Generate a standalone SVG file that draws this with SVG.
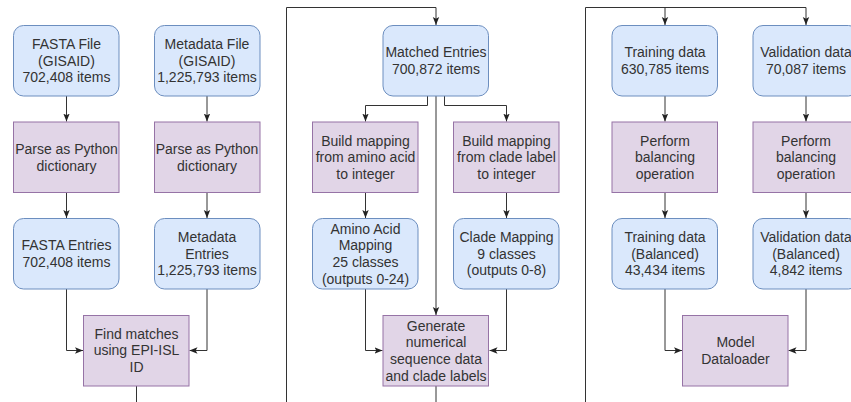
<svg xmlns="http://www.w3.org/2000/svg" width="851" height="402" viewBox="0 0 851 402">
  <style>
    .data { fill: #dae8fc; stroke: #6c8ebf; stroke-width: 1; }
    .proc { fill: #e1d5e7; stroke: #9673a6; stroke-width: 1; }
    .lbl { font-family: "Liberation Sans", Arial, Helvetica, sans-serif; font-size: 14px; fill: #333333; text-anchor: middle; }
    .edge { fill: none; stroke: #333333; stroke-width: 1; }
    .arr { marker-end: url(#arrow); }
  </style>
  <defs>
    <marker id="arrow" markerUnits="userSpaceOnUse" markerWidth="8" markerHeight="8" viewBox="0 0 8 8" refX="8" refY="4" orient="auto">
      <path d="M0,0.8 L8,4 L0,7.2 L1.8,4 Z" fill="#222222"/>
    </marker>
  </defs>
  <rect width="851" height="402" fill="#ffffff"/>

  <!-- connectors -->
  <g id="connectors">
    <path class="edge arr" d="M66.5,96 V121.5"/>
    <path class="edge arr" d="M207,96 V121.5"/>
    <path class="edge arr" d="M66.5,192.5 V218"/>
    <path class="edge arr" d="M207,192.5 V218"/>
    <path class="edge arr" d="M66.5,289 V350.5 H83"/>
    <path class="edge arr" d="M207,289 V350.5 H189.5"/>
    <path class="edge" d="M136.5,386 V402"/>

    <path class="edge arr" d="M286.5,402 V7.5 H436 V25"/>
    <path class="edge arr" d="M427.5,96 V105.5 H365.5 V121.5"/>
    <path class="edge arr" d="M444.5,96 V105.5 H506.5 V121.5"/>
    <path class="edge arr" d="M436,96 V315"/>
    <path class="edge arr" d="M365.5,192.5 V218"/>
    <path class="edge arr" d="M506.5,192.5 V218"/>
    <path class="edge arr" d="M365.5,289 V350.5 H382.5"/>
    <path class="edge arr" d="M506.5,289 V350.5 H489.5"/>
    <path class="edge" d="M436,386 V402"/>

    <path class="edge arr" d="M585.5,402 V7.5 H806 V25"/>
    <path class="edge arr" d="M665,7.5 V25"/>
    <path class="edge arr" d="M665,96 V121.5"/>
    <path class="edge arr" d="M806,96 V121.5"/>
    <path class="edge arr" d="M665,192.5 V218"/>
    <path class="edge arr" d="M806,192.5 V218"/>
    <path class="edge arr" d="M665,289 V350.5 H682"/>
    <path class="edge arr" d="M806,289 V350.5 H788.5"/>
  </g>

  <!-- stage 1: loading and matching -->
  <g id="fasta-file">
    <rect class="data" x="13.5" y="25.5" width="105.5" height="70.5" rx="10"/>
    <text class="lbl"><tspan x="66.5" y="49">FASTA File</tspan><tspan x="66.5" y="65.7">(GISAID)</tspan><tspan x="66.5" y="82.4">702,408 items</tspan></text>
  </g>
  <g id="metadata-file">
    <rect class="data" x="154.5" y="25.5" width="105.5" height="70.5" rx="10"/>
    <text class="lbl"><tspan x="207" y="49">Metadata File</tspan><tspan x="207" y="65.7">(GISAID)</tspan><tspan x="207" y="82.4">1,225,793 items</tspan></text>
  </g>
  <g id="parse-fasta">
    <rect class="proc" x="13.5" y="122" width="105.5" height="70.5"/>
    <text class="lbl"><tspan x="66.5" y="153.9">Parse as Python</tspan><tspan x="66.5" y="170.6">dictionary</tspan></text>
  </g>
  <g id="parse-metadata">
    <rect class="proc" x="154.5" y="122" width="105.5" height="70.5"/>
    <text class="lbl"><tspan x="207" y="153.9">Parse as Python</tspan><tspan x="207" y="170.6">dictionary</tspan></text>
  </g>
  <g id="fasta-entries">
    <rect class="data" x="13.5" y="218.5" width="105.5" height="70.5" rx="10"/>
    <text class="lbl"><tspan x="66.5" y="250.4">FASTA Entries</tspan><tspan x="66.5" y="267.1">702,408 items</tspan></text>
  </g>
  <g id="metadata-entries">
    <rect class="data" x="154.5" y="218.5" width="105.5" height="70.5" rx="10"/>
    <text class="lbl"><tspan x="207" y="242">Metadata</tspan><tspan x="207" y="258.7">Entries</tspan><tspan x="207" y="275.4">1,225,793 items</tspan></text>
  </g>
  <g id="find-matches">
    <rect class="proc" x="83.5" y="315.5" width="105.5" height="70.5"/>
    <text class="lbl"><tspan x="136.5" y="338.7">Find matches</tspan><tspan x="136.5" y="355.4">using EPI-ISL</tspan><tspan x="136.5" y="372.1">ID</tspan></text>
  </g>

  <!-- stage 2: mapping and encoding -->
  <g id="matched-entries">
    <rect class="data" x="383" y="25.5" width="105.5" height="70.5" rx="10"/>
    <text class="lbl"><tspan x="436" y="57.4">Matched Entries</tspan><tspan x="436" y="74.1">700,872 items</tspan></text>
  </g>
  <g id="build-amino">
    <rect class="proc" x="312.5" y="122" width="105.5" height="70.5"/>
    <text class="lbl"><tspan x="365.5" y="145.5">Build mapping</tspan><tspan x="365.5" y="162.2">from amino acid</tspan><tspan x="365.5" y="178.9">to integer</tspan></text>
  </g>
  <g id="build-clade">
    <rect class="proc" x="453.5" y="122" width="105.5" height="70.5"/>
    <text class="lbl"><tspan x="506.5" y="145.5">Build mapping</tspan><tspan x="506.5" y="162.2">from clade label</tspan><tspan x="506.5" y="178.9">to integer</tspan></text>
  </g>
  <g id="amino-mapping">
    <rect class="data" x="312.5" y="218.5" width="105.5" height="70.5" rx="10"/>
    <text class="lbl"><tspan x="365.5" y="233.7">Amino Acid</tspan><tspan x="365.5" y="250.4">Mapping</tspan><tspan x="365.5" y="267.1">25 classes</tspan><tspan x="365.5" y="283.8">(outputs 0-24)</tspan></text>
  </g>
  <g id="clade-mapping">
    <rect class="data" x="453.5" y="218.5" width="105.5" height="70.5" rx="10"/>
    <text class="lbl"><tspan x="506.5" y="242">Clade Mapping</tspan><tspan x="506.5" y="258.7">9 classes</tspan><tspan x="506.5" y="275.4">(outputs 0-8)</tspan></text>
  </g>
  <g id="generate">
    <rect class="proc" x="383" y="315.5" width="105.5" height="70.5"/>
    <text class="lbl"><tspan x="436" y="330.7">Generate</tspan><tspan x="436" y="347.4">numerical</tspan><tspan x="436" y="364.1">sequence data</tspan><tspan x="436" y="380.8">and clade labels</tspan></text>
  </g>

  <!-- stage 3: splitting and balancing -->
  <g id="training-data">
    <rect class="data" x="612" y="25.5" width="105.5" height="70.5" rx="10"/>
    <text class="lbl"><tspan x="665" y="57.4">Training data</tspan><tspan x="665" y="74.1">630,785 items</tspan></text>
  </g>
  <g id="validation-data">
    <rect class="data" x="753" y="25.5" width="105.5" height="70.5" rx="10"/>
    <text class="lbl"><tspan x="806" y="57.4">Validation data</tspan><tspan x="806" y="74.1">70,087 items</tspan></text>
  </g>
  <g id="balance-training">
    <rect class="proc" x="612" y="122" width="105.5" height="70.5"/>
    <text class="lbl"><tspan x="665" y="145.5">Perform</tspan><tspan x="665" y="162.2">balancing</tspan><tspan x="665" y="178.9">operation</tspan></text>
  </g>
  <g id="balance-validation">
    <rect class="proc" x="753" y="122" width="105.5" height="70.5"/>
    <text class="lbl"><tspan x="806" y="145.5">Perform</tspan><tspan x="806" y="162.2">balancing</tspan><tspan x="806" y="178.9">operation</tspan></text>
  </g>
  <g id="training-balanced">
    <rect class="data" x="612" y="218.5" width="105.5" height="70.5" rx="10"/>
    <text class="lbl"><tspan x="665" y="242">Training data</tspan><tspan x="665" y="258.7">(Balanced)</tspan><tspan x="665" y="275.4">43,434 items</tspan></text>
  </g>
  <g id="validation-balanced">
    <rect class="data" x="753" y="218.5" width="105.5" height="70.5" rx="10"/>
    <text class="lbl"><tspan x="806" y="242">Validation data</tspan><tspan x="806" y="258.7">(Balanced)</tspan><tspan x="806" y="275.4">4,842 items</tspan></text>
  </g>
  <g id="model-dataloader">
    <rect class="proc" x="682.5" y="315.5" width="105.5" height="70.5"/>
    <text class="lbl"><tspan x="735.5" y="347.4">Model</tspan><tspan x="735.5" y="364.1">Dataloader</tspan></text>
  </g>
</svg>
